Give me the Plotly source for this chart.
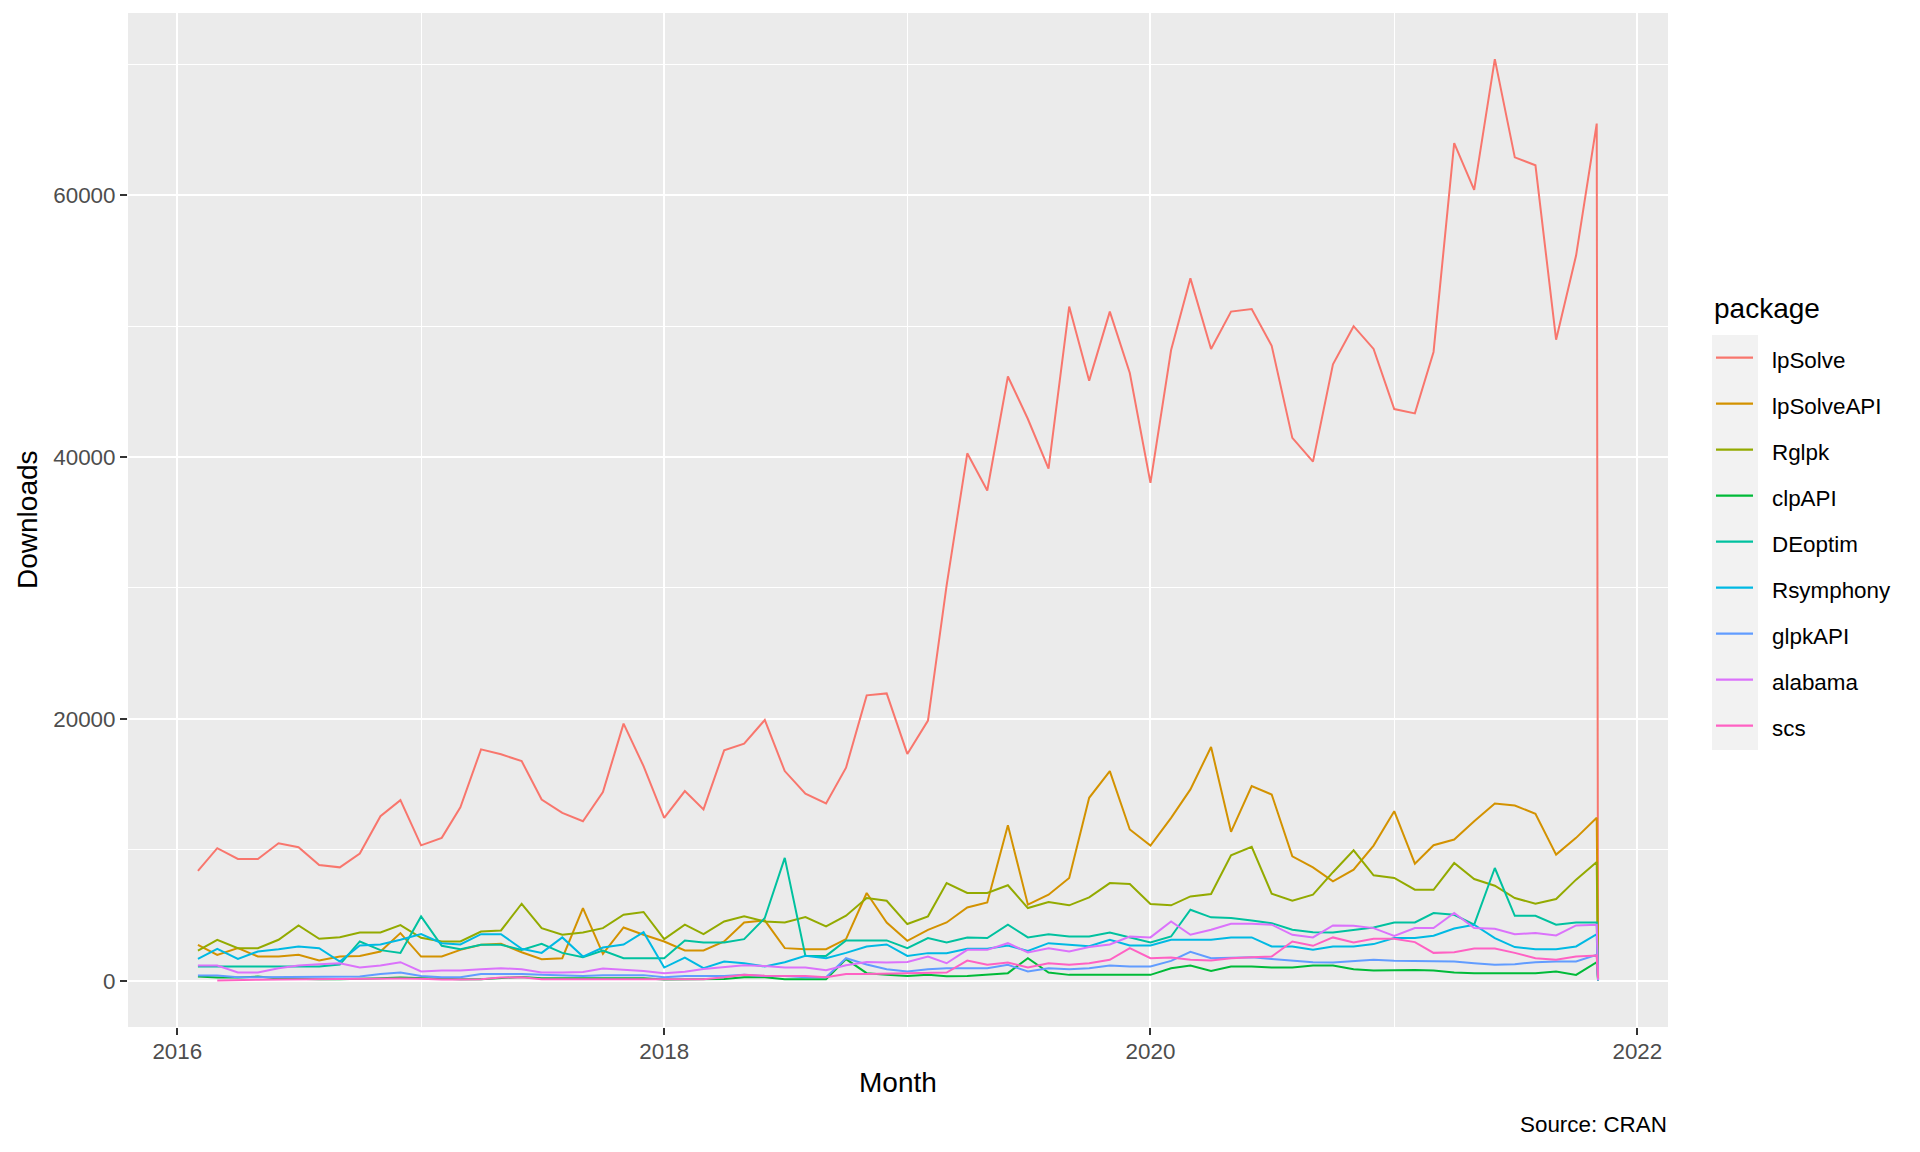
import pandas as pd
import plotly.graph_objects as go

# ---------------- data (monthly CRAN downloads) ----------------
months = pd.date_range("2016-02-01", "2021-11-01", freq="MS").strftime("%Y-%m-%d").tolist() + ["2021-11-03"]

packages = ["lpSolve", "lpSolveAPI", "Rglpk", "clpAPI", "DEoptim",
            "Rsymphony", "glpkAPI", "alabama", "scs"]
colors = ["#F8766D", "#D39200", "#93AA00", "#00BA38", "#00C19F",
          "#00B9E3", "#619CFF", "#DB72FB", "#FF61C3"]

lpSolve = [8400, 10130, 9310, 9310, 10510, 10200, 8850, 8670, 9720, 12570,
           13800, 10350, 10920, 13260, 17680, 17300, 16780, 13850, 12830, 12190,
           14410, 19640, 16400, 12450, 14490, 13090, 17600, 18110, 19920, 16020,
           14290, 13550, 16280, 21800, 21950, 17330, 19870, 30200, 40280, 37440,
           46150, 42900, 39110, 51490, 45830, 51100, 46410, 38020, 48170, 53640,
           48250, 51100, 51300, 48490, 41460, 39650, 47080, 49990, 48250, 43660,
           43330, 48020, 63960, 60390, 70380, 62880, 62270, 48960, 55380, 65460,
           400]
lpSolveAPI = [2755, 1990, 2500, 1860, 1860, 1990, 1555, 1860, 1910, 2245,
              3650, 1860, 1860, 2370, 2755, 2830, 2190, 1660, 1735, 5560,
              2070, 4080, 3520, 3010, 2320, 2320, 3010, 4460, 4620, 2500,
              2420, 2420, 3190, 6710, 4460, 3060, 3900, 4460, 5610, 5990,
              11890, 5820, 6580, 7860, 13980, 16020, 11560, 10330, 12450, 14620,
              17860, 11380, 14870, 14230, 9510, 8670, 7600, 8490, 10330, 12960,
              8950, 10360, 10790, 12190, 13550, 13390, 12760, 9640, 10920, 12450,
              150]
Rglpk = [2320, 3140, 2500, 2500, 3140, 4235, 3210, 3340, 3700, 3700,
         4260, 3290, 3010, 3010, 3770, 3850, 5890, 4030, 3520, 3700,
         4030, 5050, 5260, 3190, 4290, 3570, 4540, 4930, 4540, 4460,
         4880, 4160, 4980, 6330, 6120, 4340, 4930, 7470, 6710, 6710,
         7300, 5560, 6020, 5770, 6380, 7470, 7400, 5870, 5770, 6450,
         6630, 9590, 10230, 6660, 6120, 6580, 8300, 9970, 8060, 7860,
         6960, 6960, 9000, 7780, 7270, 6330, 5890, 6250, 7730, 9080,
         120]
clpAPI = [330, 255, 255, 330, 180, 130, 130, 130, 150, 200,
          250, 200, 130, 130, 130, 200, 300, 200, 200, 200,
          200, 200, 200, 100, 130, 130, 150, 280, 280, 130,
          130, 130, 1660, 590, 460, 380, 460, 360, 380, 460,
          590, 1735, 640, 460, 460, 460, 460, 460, 970, 1175,
          765, 1100, 1100, 1020, 1020, 1175, 1175, 890, 790, 840,
          840, 790, 640, 590, 590, 590, 590, 715, 460, 1430,
          20]
DEoptim = [1100, 1100, 1100, 1100, 1100, 1100, 1100, 1250, 3010, 2350,
           2140, 4920, 2680, 2420, 2755, 2755, 2370, 2830, 2140, 1810,
           2320, 1730, 1730, 1730, 3090, 2930, 2930, 3190, 4800, 9390,
           1910, 1910, 3090, 3090, 3090, 2500, 3270, 2930, 3320, 3270,
           4290, 3320, 3570, 3390, 3390, 3700, 3320, 2930, 3390, 5430,
           4850, 4800, 4620, 4410, 3900, 3720, 3700, 3900, 4080, 4460,
           4460, 5180, 5050, 4290, 8620, 4970, 4970, 4290, 4460, 4460,
           80]
Rsymphony = [1680, 2450, 1680, 2245, 2420, 2630, 2500, 1480, 2700, 2780,
             3140, 3570, 2880, 2780, 3570, 3570, 2450, 2140, 3320, 1860,
             2550, 2780, 3720, 1020, 1780, 970, 1480, 1350, 1100, 1430,
             1910, 1730, 2140, 2630, 2780, 1910, 2120, 2120, 2450, 2450,
             2700, 2290, 2880, 2780, 2650, 3140, 2700, 2700, 3140, 3140,
             3140, 3320, 3320, 2630, 2630, 2370, 2630, 2630, 2810, 3270,
             3270, 3450, 4000, 4290, 3270, 2580, 2420, 2420, 2630, 3570,
             60]
glpkAPI = [410, 410, 280, 280, 280, 300, 300, 300, 330, 535,
           640, 380, 280, 280, 535, 535, 535, 460, 400, 380,
           430, 460, 440, 280, 380, 380, 380, 460, 380, 380,
           280, 280, 1735, 1250, 890, 715, 890, 970, 970, 970,
           1225, 715, 970, 890, 970, 1175, 1100, 1100, 1530, 2220,
           1735, 1760, 1810, 1680, 1530, 1430, 1400, 1480, 1610, 1530,
           1530, 1530, 1480, 1350, 1225, 1275, 1430, 1480, 1480, 1990,
           30]
alabama = [1175, 1175, 640, 640, 970, 1175, 1275, 1350, 1020, 1175,
           1430, 715, 790, 790, 890, 970, 890, 650, 640, 680,
           940, 820, 760, 580, 700, 900, 1020, 1190, 1130, 1020,
           1020, 820, 1200, 1440, 1400, 1450, 1860, 1350, 2370, 2370,
           2880, 2170, 2500, 2245, 2580, 2780, 3390, 3320, 4540, 3520,
           3900, 4360, 4360, 4290, 3520, 3320, 4235, 4210, 4030, 3440,
           4030, 4030, 5180, 4030, 3980, 3570, 3650, 3470, 4235, 4290,
           60]
scs = [None, 30, 80, 90, 100, 120, 150, 160, 170, 170,
       180, 170, 100, 110, 120, 250, 280, 130, 130, 130,
       130, 130, 100, 80, 100, 130, 280, 460, 400, 380,
       380, 280, 535, 535, 560, 590, 610, 640, 1555, 1225,
       1400, 1020, 1350, 1225, 1350, 1610, 2500, 1730, 1780, 1610,
       1555, 1730, 1810, 1860, 3010, 2680, 3320, 2930, 3210, 3210,
       2960, 2140, 2190, 2470, 2470, 2140, 1730, 1610, 1860, 1940,
       200]

series = [lpSolve, lpSolveAPI, Rglpk, clpAPI, DEoptim, Rsymphony, glpkAPI, alabama, scs]

x_ticks_major = "M24"
y_dtick = 20000

# ---------------- layout geometry (pixels) ----------------
W_FIG, H_FIG = 1920, 1152
L, R, T, B = 128, 1668, 13, 1027
PW, PH = R - L, B - T
FONT = "Liberation Sans, Arial, Helvetica, sans-serif"


def pxx(X):
    return (X - L) / PW


def pxy(Y):
    return (B - Y) / PH


fig = go.Figure()
for name, col, vals in zip(packages, colors, series):
    fig.add_trace(go.Scatter(x=months, y=vals, mode="lines", name=name,
                             line=dict(color=col, width=2.0),
                             showlegend=False, connectgaps=False))

annotations = [
    dict(text="Downloads", x=pxx(27), y=0.5, xref="paper", yref="paper",
         textangle=-90, showarrow=False, xanchor="center", yanchor="middle",
         font=dict(family=FONT, size=28, color="black")),
    dict(text="Month", x=0.5, y=pxy(1082.5), xref="paper", yref="paper",
         showarrow=False, xanchor="center", yanchor="middle",
         font=dict(family=FONT, size=28, color="black")),
    dict(text="Source: CRAN", x=pxx(1669), y=pxy(1124.5), xref="paper", yref="paper",
         showarrow=False, xanchor="right", yanchor="middle",
         font=dict(family=FONT, size=22.4, color="black")),
    dict(text="package", x=pxx(1712), y=pxy(308), xref="paper", yref="paper",
         showarrow=False, xanchor="left", yanchor="middle",
         font=dict(family=FONT, size=28, color="black")),
]
shapes = [dict(type="rect", xref="paper", yref="paper",
               x0=pxx(1712), x1=pxx(1758), y0=pxy(750), y1=pxy(335),
               fillcolor="#F2F2F2", line=dict(width=0), layer="above")]
for k, (name, col) in enumerate(zip(packages, colors)):
    yk = 357.7 + 46.0 * k
    shapes.append(dict(type="line", xref="paper", yref="paper",
                       x0=pxx(1716), x1=pxx(1753), y0=pxy(yk), y1=pxy(yk),
                       line=dict(color=col, width=2.2), layer="above"))
    annotations.append(dict(text=name, x=pxx(1769.5), y=pxy(yk + 2.5), xref="paper", yref="paper",
                            showarrow=False, xanchor="left", yanchor="middle",
                            font=dict(family=FONT, size=22.4, color="black")))

fig.update_layout(
    width=W_FIG, height=H_FIG,
    margin=dict(l=L, r=W_FIG - R, t=T, b=H_FIG - B, pad=0),
    paper_bgcolor="white", plot_bgcolor="#EBEBEB",
    font=dict(family=FONT, size=22.4, color="#4D4D4D"),
    annotations=annotations, shapes=shapes,
    showlegend=False,
    xaxis=dict(type="date", range=["2015-10-19", "2022-02-16"],
               tick0="2016-01-01", dtick=x_ticks_major, tickformat="%Y",
               showgrid=True, gridcolor="white", gridwidth=2.2,
               minor=dict(dtick="M12", tick0="2016-01-01", showgrid=True,
                          gridcolor="white", gridwidth=1.1),
               ticks="outside", ticklen=7, tickwidth=2, tickcolor="#333333",
               ticklabelstandoff=-3,
               tickfont=dict(family=FONT, size=22.4, color="#4D4D4D"),
               zeroline=False, showline=False),
    yaxis=dict(range=[-3520, 73900], tick0=0, dtick=y_dtick, tickformat="d",
               showgrid=True, gridcolor="white", gridwidth=2.2,
               minor=dict(dtick=10000, tick0=0, showgrid=True,
                          gridcolor="white", gridwidth=1.1),
               ticks="outside", ticklen=7, tickwidth=2, tickcolor="#333333",
               tickfont=dict(family=FONT, size=22.4, color="#4D4D4D"),
               zeroline=False, showline=False),
)

fig.write_html("out.html")
